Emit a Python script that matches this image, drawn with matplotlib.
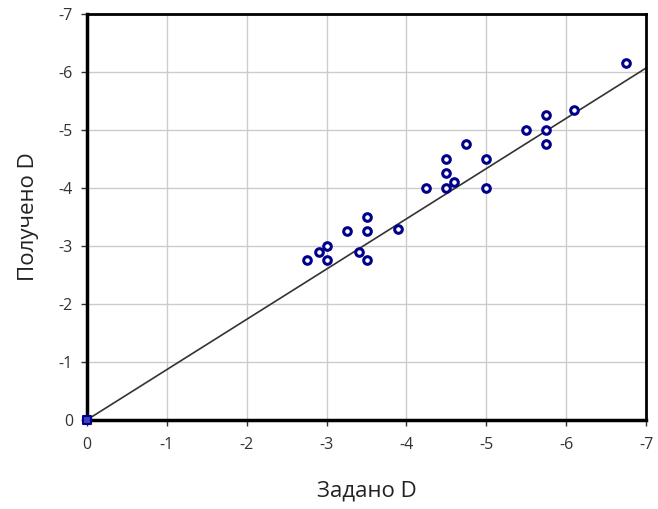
import numpy as np
import matplotlib
matplotlib.use("Agg")
import matplotlib.pyplot as plt

plt.rcParams['font.family'] = ['Open Sans', 'DejaVu Sans']
plt.rcParams['axes.unicode_minus'] = False

# given vs obtained D values
given_d = [-2.75, -2.9, -3.0, -3.0, -3.25, -3.4, -3.5, -3.5, -3.5, -3.9,
           -4.25, -4.5, -4.5, -4.5, -4.6, -4.75, -5.0, -5.0, -5.5,
           -5.75, -5.75, -5.75, -6.1, -6.75]
obtained_d = [-2.75, -2.9, -3.0, -2.75, -3.25, -2.9, -3.5, -3.25, -2.75, -3.3,
              -4.0, -4.5, -4.25, -4.0, -4.1, -4.75, -4.5, -4.0, -5.0,
              -5.25, -5.0, -4.75, -5.35, -6.15]
origin = [0.0]
fit_x = [0.0, -7.0]
fit_slope = 0.867

fig = plt.figure(figsize=(6.58, 5.09), dpi=100)
ax = fig.add_axes([0.132, 0.175, 0.850, 0.7975])

ax.plot(fit_x, [v * fit_slope for v in fit_x], color='#333333', lw=1.2, zorder=2)
ax.scatter(given_d, obtained_d, s=30, facecolor='white', edgecolor='#00008B',
           linewidth=2.2, zorder=3)
ax.scatter(origin, origin, marker='s', s=30, facecolor='#4040c0', edgecolor='#00008B',
           linewidth=1.5, zorder=4, clip_on=False)

ax.set_xlim(0, -7)
ax.set_ylim(0, -7)
ticks = np.arange(0, -8, -1)
ax.set_xticks(ticks)
ax.set_yticks(ticks)
ax.grid(True, color='#cccccc', lw=1)
ax.set_axisbelow(True)

for side in ['left', 'bottom']:
    ax.spines[side].set_linewidth(2.5)
for side in ['top', 'right']:
    ax.spines[side].set_linewidth(2)
ax.tick_params(length=4, width=1, labelsize=11.5, colors='#333333', pad=6)
ax.tick_params(axis='x', pad=8)

ax.set_xlabel('Задано D', fontsize=16, color='#222222', labelpad=20)
ax.set_ylabel('Получено D', fontsize=16, color='#222222', labelpad=14)

fig.savefig('out.png', dpi=100)
